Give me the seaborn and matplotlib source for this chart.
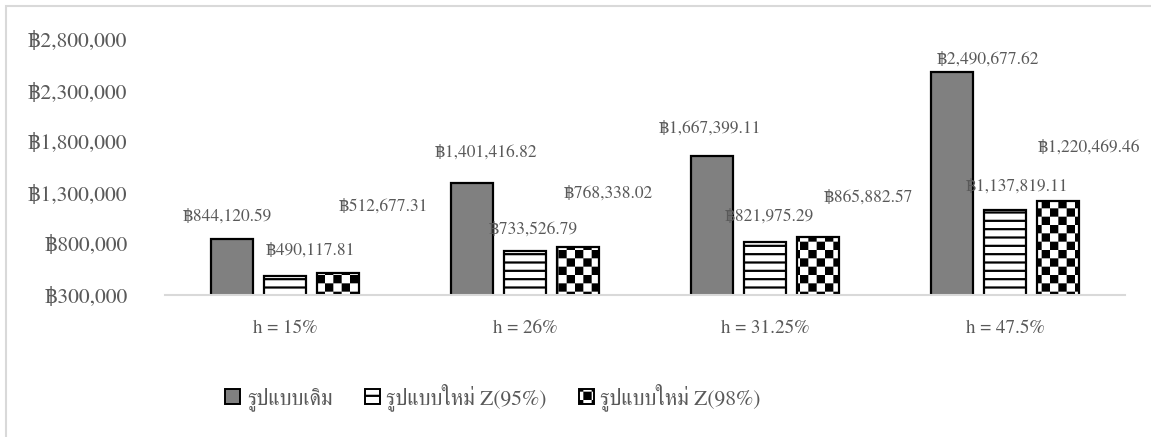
import warnings
import matplotlib
matplotlib.use("Agg")
import matplotlib.pyplot as plt
import matplotlib.hatch as mhatch
from matplotlib.path import Path
from matplotlib.patches import Patch, Rectangle
from matplotlib.ticker import FuncFormatter, FixedLocator
import numpy as np
import pandas as pd
import seaborn as sns

warnings.filterwarnings("ignore")

# ---- data -------------------------------------------------------------
categories = ["h = 15%", "h = 26%", "h = 31.25%", "h = 47.5%"]
series_names = ["รูปแบบเดิม", "รูปแบบใหม่ Z(95%)", "รูปแบบใหม่ Z(98%)"]
cost_original = [844120.59, 1401416.82, 1667399.11, 2490677.62]
cost_z95 = [490117.81, 733526.79, 821975.29, 1137819.11]
cost_z98 = [512677.31, 768338.02, 865882.57, 1220469.46]
y_ticks = [300000, 800000, 1300000, 1800000, 2300000, 2800000]

# label offsets (pixels) relative to the top centre of each bar
label_offsets = [
    [(-5, 23), (14, 30), (-2, 27), (36, 12)],
    [(25, 25), (8, 21), (4, 25), (12, 23)],
    [(45, 67), (30, 54), (50, 40), (31, 53)],
]

HATCH_LW = 1.6  # points


# ---- checkerboard hatch pattern ('k') ----------------------------------
class CheckerHatch(mhatch.HatchPatternBase):
    def __init__(self, hatch, density):
        self.n = 2 * density if "k" in hatch else 0
        self.num_vertices = (self.n * self.n // 2) * 5

    def set_vertices_and_codes(self, vertices, codes):
        s = 1.0 / self.n
        # shrink each square so the hatch stroke does not enlarge it
        e = (HATCH_LW / 2) / 72.0
        k = 0
        for i in range(self.n):
            for j in range(self.n):
                if (i + j) % 2:
                    continue
                x0, y0 = i * s + e, j * s + e
                x1, y1 = (i + 1) * s - e, (j + 1) * s - e
                vertices[k:k + 5] = [(x0, y0), (x1, y0), (x1, y1), (x0, y1), (x0, y0)]
                codes[k:k + 5] = [Path.MOVETO, Path.LINETO, Path.LINETO,
                                  Path.LINETO, Path.CLOSEPOLY]
                k += 5


mhatch._hatch_types.append(CheckerHatch)

# ---- style -------------------------------------------------------------
sns.set_style("white")
plt.rcParams["font.family"] = ["FreeSerif", "DejaVu Serif"]
plt.rcParams["hatch.linewidth"] = HATCH_LW

fills = ["#808080", "white", "white"]
hatches = [None, "--", "k"]
text_gray = "#595959"

df = pd.DataFrame({
    "category": categories * 3,
    "series": np.repeat(series_names, len(categories)),
    "cost": cost_original + cost_z95 + cost_z98,
})

fig = plt.figure(figsize=(11.51, 4.37), dpi=100)
ax = fig.add_axes([165 / 1151, 142 / 437, 960 / 1151, 255 / 437])

sns.barplot(data=df, x="category", y="cost", hue="series", order=categories,
            hue_order=series_names, palette=fills, width=0.6625, gap=0.19,
            edgecolor="black", linewidth=1.6, errorbar=None, legend=False, ax=ax)

values = [cost_original, cost_z95, cost_z98]
for s, cont in enumerate(ax.containers):
    for c, bar in enumerate(cont):
        bar.set_facecolor(fills[s])
        bar.set_edgecolor("black")
        if hatches[s]:
            bar.set_hatch(hatches[s])
        dx, dy = label_offsets[s][c]
        ax.annotate(f"฿{values[s][c]:,.2f}",
                    xy=(bar.get_x() + bar.get_width() / 2, values[s][c]),
                    xytext=(dx, dy), textcoords="offset pixels",
                    ha="center", va="center", fontsize=12.5, color=text_gray,
                    annotation_clip=False)

ax.set_ylim(y_ticks[0], y_ticks[-1])
ax.yaxis.set_major_locator(FixedLocator(y_ticks))
ax.yaxis.set_major_formatter(FuncFormatter(lambda v, _: f"฿{v:,.0f}"))
ax.set_xlabel("")
ax.set_ylabel("")
ax.tick_params(axis="y", length=0, pad=27, labelsize=15.5, labelcolor=text_gray)
ax.tick_params(axis="x", length=0, pad=18, labelsize=13.8, labelcolor=text_gray)
for side in ["left", "right", "top"]:
    ax.spines[side].set_visible(False)
ax.spines["bottom"].set_color("#d9d9d9")
ax.spines["bottom"].set_linewidth(1.5)
ax.grid(False)

handles = [Patch(facecolor=fills[i], edgecolor="black", linewidth=1.4,
                 hatch=hatches[i]) for i in range(3)]
fig.legend(handles, series_names, loc="center", bbox_to_anchor=(493 / 1151, 40 / 437),
           ncol=3, frameon=False, fontsize=15.5, handlelength=0.7, handleheight=0.7,
           handletextpad=0.3, columnspacing=1.5, labelcolor=text_gray)

# chart-area border
fig.patches.append(Rectangle((6 / 1151, -0.1), 1.2, (431 / 437) + 0.1,
                             transform=fig.transFigure, fill=False,
                             edgecolor="#d9d9d9", linewidth=1.5))

fig.savefig("out.png", dpi=100)
